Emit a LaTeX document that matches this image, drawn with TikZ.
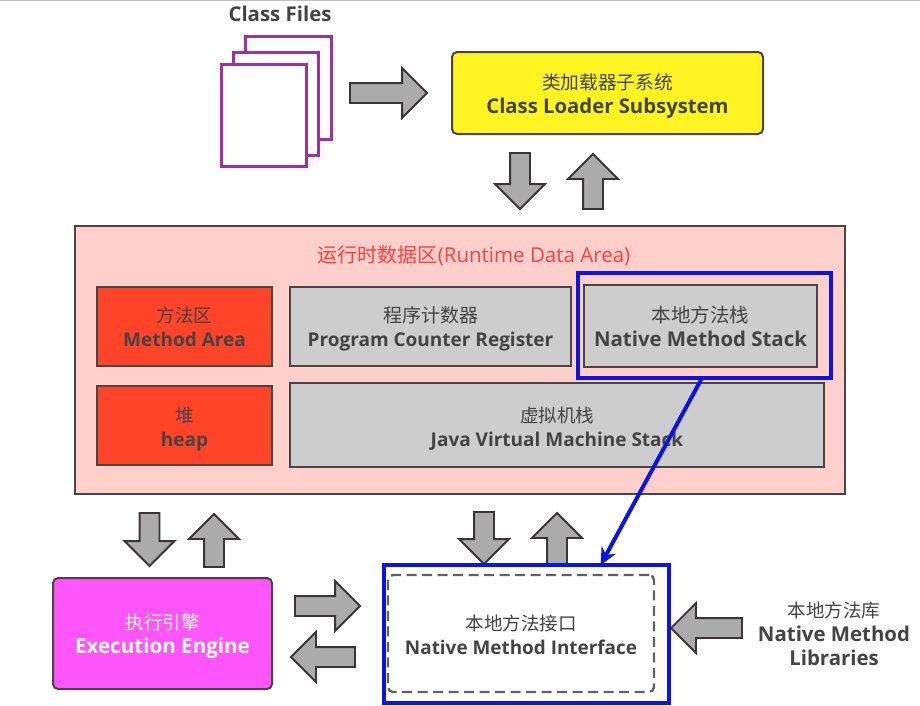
\documentclass[tikz,border=0pt]{standalone}
\usepackage{fontspec}
\setmainfont{Open Sans}
\newfontfamily\cjk{Noto Sans CJK SC}
\usetikzlibrary{shapes.arrows,arrows.meta,calc}
\definecolor{txt}{HTML}{444444}
\definecolor{edge}{HTML}{4A4444}
\definecolor{grayfill}{HTML}{CDCDCD}
\definecolor{arrowfill}{HTML}{ABABAB}
\definecolor{pinkfill}{HTML}{FFCFCB}
\definecolor{redfill}{HTML}{FF4328}
\definecolor{yellowfill}{HTML}{FFF322}
\definecolor{magentafill}{HTML}{FF55FB}
\definecolor{purpleline}{HTML}{A030A0}
\definecolor{blueline}{HTML}{0A14E6}
\newcommand{\zh}[2]{{\cjk\mdseries\fontsize{#1}{24}\selectfont #2}}
\newcommand{\up}[1]{\rule{0pt}{#1pt}}
\tikzset{
  x=1pt,y=-1pt,
  fs/.style={font=\fontsize{#1}{24}\selectfont\bfseries},
  box/.style={draw=edge,line width=2pt,inner sep=0pt,outer sep=0pt,align=center,text=txt,fs=19},
  filebox/.style={draw=purpleline,line width=3pt,fill=white,inner sep=0pt,outer sep=0pt},
  hl/.style={draw=blueline,line width=3.8pt,inner sep=0pt,outer sep=0pt},
  blockarrow/.style={single arrow,draw=edge!80!black,line width=1.8pt,fill=arrowfill,inner sep=0pt,outer sep=0pt,
    single arrow head extend=15pt,anchor=tail},
  plainlabel/.style={align=center,text=txt,fs=20.4,inner sep=0pt},
}
\newcommand{\boxat}[7]{\node[#1,minimum width=#6pt-#4pt,minimum height=#7pt-#5pt,anchor=north west] (#2) at (#4,#5) {#3};}
\newcommand{\arr}[5]{\node[blockarrow,minimum height=#4pt,rotate=#5] (#1) at (#2,#3) {\rule{0pt}{18pt}};}
\begin{document}
\begin{tikzpicture}
\useasboundingbox (0,0) rectangle (920,705);
\fill[white] (0,0) rectangle (920,705);
\draw[black!25,line width=1.5pt] (0,0.5) -- (920,0.5);

% class files
\node[plainlabel] (cf) at (280,14) {Class Files};
\boxat{filebox}{f1}{}{245}{36}{331}{139}
\boxat{filebox}{f2}{}{233}{52}{318}{155}
\boxat{filebox}{f3}{}{221}{64}{306}{166}

% class loader
\boxat{box,fs=20.3,fill=yellowfill,rounded corners=5pt}{loader}{\up{22}\zh{18.7}{类加载器子系统}\\Class Loader Subsystem}{452}{52}{763}{134}

% runtime area
\boxat{draw=edge,line width=2pt,fill=pinkfill,inner sep=0pt,outer sep=0pt}{rt}{}{75}{226}{845}{494}
\node[inner sep=0pt,text=red!75!white,font=\fontsize{20.5}{24}\selectfont] (rttitle) at (474,256) {\zh{20}{运行时数据区}(Runtime Data Area)};
\boxat{box,fill=redfill}{ma}{\zh{18.5}{方法区}\\Method Area}{97}{287}{272}{366}
\boxat{box,fill=redfill}{heap}{\up{22}\zh{18.5}{堆}\\heap}{97}{386}{272}{465}
\boxat{box,fill=grayfill}{pc}{\up{20}\zh{19}{程序计数器}\\Program Counter Register}{290}{287}{571}{366}
\boxat{box,fs=20.4,fill=grayfill}{ns}{\up{18}\zh{19.5}{本地方法栈}\\Native Method Stack}{584}{285}{817}{367}
\boxat{box,fill=grayfill}{jvm}{\up{22}\zh{18.5}{虚拟机栈}\\Java Virtual Machine Stack}{290}{383}{824}{467}
\boxat{hl}{nshl}{}{578}{273}{831}{378}

% execution engine
\boxat{box,fs=20.6,fill=magentafill,rounded corners=5pt,text=white}{ee}{\up{20}\zh{18.5}{执行引擎}\\Execution Engine}{53}{578}{272}{689}

% block arrows
\arr{a1}{350}{93}{77}{0}
\arr{a2}{520}{153}{56}{270}
\arr{a3}{593}{209}{55}{90}
\arr{a4}{149.5}{513}{53}{270}
\arr{a5}{214}{567}{53}{90}
\arr{a6}{484}{512}{52}{270}
\arr{a7}{557}{567}{54}{90}
\arr{a8}{295}{606}{65}{0}
\arr{a9}{355}{657}{64}{180}
\arr{a10}{742}{628}{71}{180}

% native interface
\boxat{hl,fill=white}{nihl}{}{384}{565}{669}{703}
\boxat{draw=edge!85,line width=2.4pt,dash pattern=on 10pt off 5.5pt,rounded corners=5pt,inner sep=0pt,outer sep=0pt,align=center,text=txt,fs=18.9}{ni}{\up{18}\zh{18.5}{本地方法接口}\\Native Method Interface}{388}{575}{654}{692}

% libraries
\node[plainlabel] (lib) at (834,634) {\zh{18.5}{本地方法库}\\Native Method\\Libraries};

% blue connector
\draw[blueline,line width=4pt,-{Stealth[length=17pt,width=16pt]}]
  ($(nshl.south west)!0.49!(nshl.south east)$) -- ($(nihl.north west)!0.76!(nihl.north east)$);
\end{tikzpicture}
\end{document}
